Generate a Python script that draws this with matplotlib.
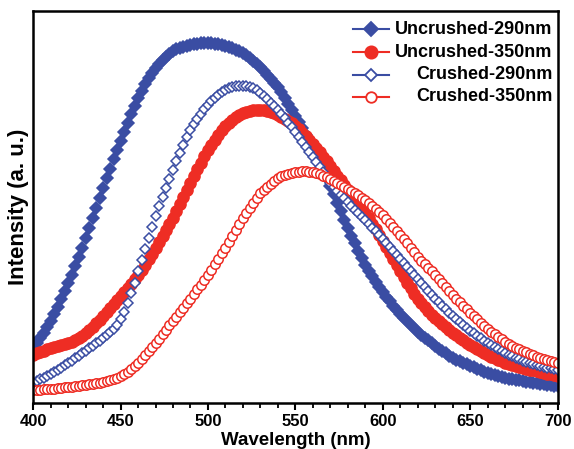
import numpy as np
import matplotlib
matplotlib.use('Agg')
import matplotlib.pyplot as plt

plt.rcParams['font.family'] = ['Liberation Sans', 'DejaVu Sans']
plt.rcParams['font.weight'] = 'bold'

# wavelength grid (nm), one point every 2 nm
wavelength = np.arange(400, 701, 2)

# intensities (a. u.)
uncrushed_290 = [56, 60, 65, 70, 76, 82,
                 89, 96, 104, 112, 120,
                 128, 137, 146, 155, 165,
                 175, 185, 195, 205, 215,
                 225, 234, 244, 253, 262,
                 271, 280, 289, 297, 305,
                 312, 319, 325, 330, 335,
                 339, 343, 346, 349, 352,
                 354, 355, 356, 357, 358,
                 359, 359, 360, 360, 360,
                 360, 359, 359, 358, 357,
                 356, 355, 353, 352, 350,
                 348, 345, 342, 339, 336,
                 332, 328, 324, 320, 316,
                 311, 305, 299, 293, 287,
                 281, 275, 268, 262, 256,
                 249, 241, 233, 225, 217,
                 209, 200, 192, 183, 175,
                 167, 160, 152, 145, 138,
                 132, 127, 121, 116, 111,
                 106, 102, 97, 93, 89,
                 85, 82, 78, 75, 71,
                 68, 65, 63, 60, 57,
                 54, 52, 50, 47, 45,
                 43, 42, 40, 39, 37,
                 36, 34, 33, 31, 30,
                 29, 28, 27, 26, 25,
                 24, 24, 23, 23, 22,
                 21, 21, 20, 20, 19,
                 19, 18, 18, 17, 17]

uncrushed_350 = [48, 50, 51, 52, 54, 55,
                 56, 57, 58, 59, 60,
                 61, 63, 65, 67, 70,
                 73, 76, 80, 83, 87,
                 91, 95, 99, 103, 107,
                 111, 115, 119, 124, 128,
                 133, 138, 144, 149, 155,
                 161, 167, 173, 179, 185,
                 192, 199, 206, 213, 220,
                 227, 234, 240, 247, 253,
                 258, 263, 268, 273, 277,
                 280, 283, 286, 288, 290,
                 291, 292, 293, 293, 293,
                 293, 292, 291, 290, 288,
                 286, 284, 282, 280, 277,
                 274, 270, 267, 263, 259,
                 255, 251, 246, 242, 237,
                 232, 227, 223, 218, 213,
                 208, 204, 199, 195, 190,
                 185, 179, 174, 168, 162,
                 156, 150, 144, 138, 132,
                 126, 120, 115, 109, 104,
                 100, 96, 92, 88, 85,
                 82, 79, 76, 73, 70,
                 68, 65, 63, 60, 58,
                 56, 54, 52, 50, 48,
                 46, 45, 43, 42, 40,
                 39, 38, 37, 36, 35,
                 34, 33, 33, 32, 31,
                 30, 29, 29, 28, 27]

crushed_290 = [20, 22, 24, 25, 27, 29,
               31, 33, 35, 38, 40,
               42, 45, 47, 50, 52,
               55, 57, 60, 62, 65,
               68, 71, 74, 78, 84,
               91, 100, 110, 120, 132,
               143, 154, 165, 176, 187,
               197, 206, 215, 224, 233,
               242, 250, 258, 266, 273,
               279, 284, 289, 294, 298,
               302, 305, 308, 311, 313,
               315, 316, 317, 317, 317,
               317, 316, 315, 313, 310,
               307, 304, 300, 297, 293,
               289, 285, 280, 276, 271,
               266, 261, 256, 251, 246,
               241, 236, 231, 225, 220,
               216, 212, 208, 205, 201,
               197, 193, 190, 186, 183,
               179, 175, 172, 168, 164,
               160, 156, 152, 148, 144,
               140, 136, 132, 128, 124,
               120, 116, 112, 108, 104,
               101, 97, 94, 90, 87,
               84, 81, 78, 75, 72,
               70, 67, 65, 62, 60,
               58, 56, 54, 52, 50,
               48, 47, 45, 44, 42,
               41, 40, 39, 38, 37,
               36, 35, 35, 34, 33]

crushed_350 = [13, 13, 13, 14, 14, 14,
               14, 15, 15, 16, 16,
               16, 17, 17, 18, 18,
               19, 19, 20, 20, 21,
               22, 23, 24, 25, 27,
               29, 31, 34, 37, 40,
               44, 48, 52, 56, 60,
               64, 69, 73, 78, 82,
               86, 91, 95, 100, 104,
               109, 114, 118, 123, 128,
               133, 139, 144, 150, 155,
               161, 167, 173, 179, 185,
               190, 195, 200, 205, 210,
               213, 216, 219, 222, 225,
               227, 228, 229, 230, 231,
               231, 232, 232, 231, 231,
               230, 229, 227, 226, 224,
               222, 220, 218, 216, 214,
               212, 210, 208, 205, 203,
               200, 197, 194, 191, 188,
               184, 180, 176, 172, 168,
               164, 160, 155, 151, 146,
               142, 139, 135, 132, 128,
               124, 120, 116, 112, 108,
               104, 101, 97, 94, 90,
               87, 84, 80, 77, 74,
               71, 69, 66, 64, 61,
               59, 57, 55, 54, 52,
               51, 49, 48, 46, 45,
               44, 43, 42, 41, 40]

labels = ['Uncrushed-290nm', 'Uncrushed-350nm', 'Crushed-290nm', 'Crushed-350nm']
series = [uncrushed_290, uncrushed_350, crushed_290, crushed_350]

blue = '#3a4da3'
red = '#ee2d24'
# colour, marker, face colour, marker size
styles = [(blue, 'D', blue, 6),
          (red, 'o', red, 8),
          (blue, 'D', 'white', 5.2),
          (red, 'o', 'white', 6.8)]

fig = plt.figure(figsize=(5.74, 4.49), dpi=100)
ax = fig.add_axes([0.0575, 0.1024, 0.9146, 0.8731])

for ys, (c, m, fc, ms) in zip(series, styles):
    ax.plot(wavelength, ys, ls='none', marker=m, ms=ms, mfc=fc, mec=c, mew=1.1)

# legend: handle on the left, text right-aligned
rows = [0.954, 0.895, 0.837, 0.781]
for y, lab, (c, m, fc, ms) in zip(rows, labels, styles):
    ax.plot([0.61, 0.678], [y, y], color=c, lw=1.5, transform=ax.transAxes, clip_on=False)
    ax.plot([0.644], [y], ls='none', marker=m, ms=ms + 0.8, mfc=fc, mec=c, mew=1.3,
            transform=ax.transAxes, clip_on=False)
    ax.text(0.99, y, lab, ha='right', va='center', fontsize=13, fontweight='bold',
            transform=ax.transAxes)

ax.set_xlim(400, 700)
ax.set_ylim(0, 392)
ax.set_yticks([])
ax.set_xticks(np.arange(400, 701, 50))
ax.set_xticks(np.arange(400, 701, 10), minor=True)
ax.tick_params(axis='x', which='major', direction='out', length=5, width=1.5, labelsize=12, pad=3)
ax.tick_params(axis='x', which='minor', direction='out', length=3.5, width=1.3)
for s in ax.spines.values():
    s.set_linewidth(1.8)

ax.set_xlabel('Wavelength (nm)', fontsize=13.5, fontweight='bold', labelpad=2)
ax.set_ylabel('Intensity (a. u.)', fontsize=16, fontweight='bold', labelpad=3)

fig.savefig('out.png', dpi=100)
